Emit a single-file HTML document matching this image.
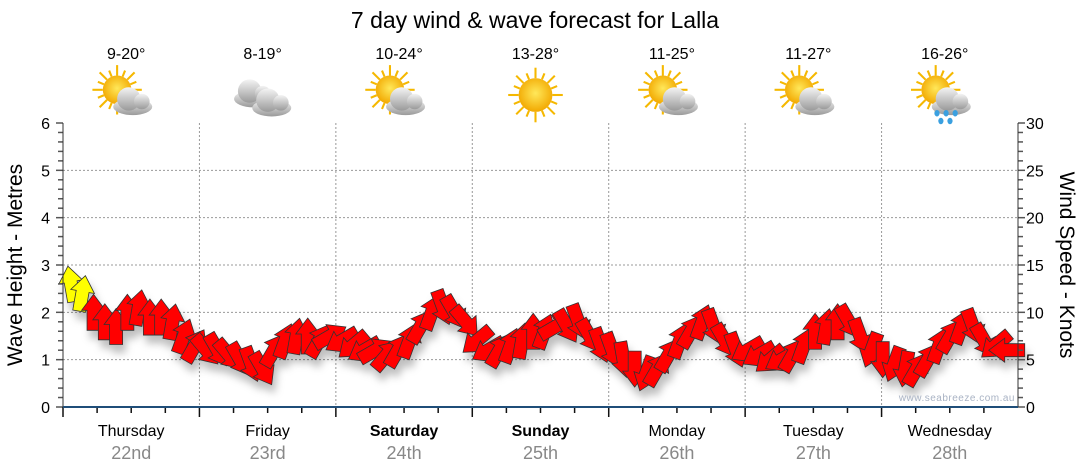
<!DOCTYPE html>
<html><head><meta charset="utf-8">
<style>
body{margin:0;background:#fff;}
svg{display:block;font-family:"Liberation Sans",sans-serif;}
</style></head>
<body>
<svg id="chart" width="1080" height="475" viewBox="0 0 1080 475" xmlns="http://www.w3.org/2000/svg">
<defs>
<filter id="sh" x="-50%" y="-50%" width="200%" height="200%"><feDropShadow dx="3" dy="8" stdDeviation="4" flood-color="#000" flood-opacity="0.25"/></filter>
<radialGradient id="sun" cx="50%" cy="45%" r="55%"><stop offset="0" stop-color="#ffe85a"/><stop offset="1" stop-color="#f2a800"/></radialGradient>
<linearGradient id="cl" x1="0" y1="0" x2="0" y2="1"><stop offset="0" stop-color="#f4f4f4"/><stop offset="1" stop-color="#9a9a9a"/></linearGradient>
</defs>
<text x="535" y="28" font-size="23" text-anchor="middle" fill="#000">7 day wind &amp; wave forecast for Lalla</text>
<g id="grid"></g>
<g id="icons"></g>
<g id="arrows" filter="url(#sh)"></g>
<g id="axes"></g>
<text transform="translate(22,265) rotate(-90)" font-size="21" text-anchor="middle">Wave Height - Metres</text>
<text transform="translate(1060,265) rotate(90)" font-size="21" text-anchor="middle">Wind Speed - Knots</text>
<text x="1015" y="401" font-size="10" text-anchor="end" fill="#a9b3c4" letter-spacing="0.5">www.seabreeze.com.au</text>
</svg>
<script>
const days=["Thursday","Friday","Saturday","Sunday","Monday","Tuesday","Wednesday"];
const dates=["22nd","23rd","24th","25th","26th","27th","28th"];
const boldDays=[false,false,true,true,false,false,false];
const temps=["9-20°","8-19°","10-24°","13-28°","11-25°","11-27°","16-26°"];
const icons=["partly","cloudy","partly","sunny","partly","partly","rain"];
const leftTicks=[0,1,2,3,4,5,6];
const rightTicks=[0,5,10,15,20,25,30];
const windSpeed=[13,12,10,9,8.5,10,10.5,9.5,9.5,9,7.5,6.5,
 6,6,5.5,5,4.5,4,6,7,7.5,7.5,7,7.5,
 7,6.5,6,6,5.5,6,7,8.5,10,10.5,10,9,
 7,6,6,6.5,7,8,8,8.5,8.5,9,7.5,6.5,
 6,5,4,3.5,4,5.5,7,8,9,8.5,7,6,
 6,5.5,5,5,5.5,6.5,8,8.5,9,9,7.5,6,
 5,4.5,4,4,5,6.5,7.5,8.5,8.5,7,6.5,6];
const windDir=[350,10,0,0,0,0,10,0,0,10,20,30,
 140,150,140,150,160,150,30,20,10,0,30,60,
 240,230,240,60,40,30,20,30,20,160,150,140,
 230,240,30,20,10,0,20,60,150,160,150,160,
 160,170,180,200,30,30,20,30,20,160,150,160,
 240,240,230,240,30,20,0,10,0,150,160,200,
 180,200,190,30,30,20,30,20,160,150,230,270];
const windColor=["#ffff00","#ffff00"];
const X0=63,X1=1018,Y0=407,Y1=123;
const ns="http://www.w3.org/2000/svg";
function mk(t,a,p){const e=document.createElementNS(ns,t);for(const k in a)e.setAttribute(k,a[k]);p.appendChild(e);return e;}
const dayW=(X1-X0)/days.length;
function xDay(i){return X0+i*dayW;}
function xIdx(i){return X0+8+(i)*(X1-X0-8)/windSpeed.length;}
function yM(v){return Y0-(v/6)*(Y0-Y1);}
function yK(v){return Y0-(v/30)*(Y0-Y1);}
const grid=document.getElementById('grid'),axes=document.getElementById('axes'),ic=document.getElementById('icons'),ar=document.getElementById('arrows');
leftTicks.forEach(v=>{if(v>0&&v<6){const l=mk('line',{x1:X0,x2:X1,y1:yM(v),y2:yM(v),stroke:'#999','stroke-dasharray':'2,2'},grid);}
 const t=mk('text',{x:50,y:yM(v)+6,'font-size':16,'text-anchor':'end',fill:'#000'},axes);t.textContent=v;});
rightTicks.forEach(v=>{const t=mk('text',{x:1026,y:yK(v)+6,'font-size':16,fill:'#000'},axes);t.textContent=v;});
for(let v=0;v<=30;v++){const len=v%5==0?7:5;mk('line',{x1:X0-len,x2:X0,y1:yK(v),y2:yK(v),stroke:'#555','stroke-width':1.5},axes);mk('line',{x1:X1,x2:X1+len,y1:yK(v),y2:yK(v),stroke:'#555','stroke-width':1.5},axes);}
mk('line',{x1:X0,x2:X0,y1:Y1,y2:Y0,stroke:'#333'},axes);
mk('line',{x1:X1,x2:X1,y1:Y1,y2:Y0,stroke:'#333'},axes);
days.forEach((d,i)=>{
 if(i>0){const l=mk('line',{x1:xDay(i),x2:xDay(i),y1:Y1,y2:Y0,stroke:'#999','stroke-dasharray':'2,2'},grid);}
 for(let q=0;q<4;q++){const x=xDay(i)+q*dayW/4;mk('line',{x1:x,x2:x,y1:Y0,y2:Y0+(q==0?10:6),stroke:'#111','stroke-width':1.5},axes);}
 const cx=xDay(i)+dayW/2;
 const t=mk('text',{x:cx,y:436,'font-size':16,'text-anchor':'middle','font-weight':boldDays[i]?'bold':'normal'},axes);t.textContent=d;
 const t2=mk('text',{x:cx,y:459,'font-size':18,'text-anchor':'middle',fill:'#888'},axes);t2.textContent=dates[i];
 const t3=mk('text',{x:cx-5,y:59,'font-size':16,'text-anchor':'middle'},ic);t3.textContent=temps[i];
 const g=mk('g',{transform:`translate(${cx-5},95) scale(1.3)`},ic);
 const type=icons[i];
 if(type!="cloudy"){const sx=type=="sunny"?0:-7,sy=type=="sunny"?0:-4,r=type=="sunny"?13:11;
  for(let k=0;k<16;k++){const a=k*Math.PI/8;mk('line',{x1:sx+Math.cos(a)*r,y1:sy+Math.sin(a)*r,x2:sx+Math.cos(a)*(r+(k%2?5:8)),y2:sy+Math.sin(a)*(r+(k%2?5:8)),stroke:'#f5b800','stroke-width':1.6},g);}
  mk('circle',{cx:sx,cy:sy,r:r,fill:'url(#sun)'},g);}
 function cloud(ox,oy){mk('ellipse',{cx:ox,cy:oy+6,rx:15,ry:6.5,fill:'url(#cl)'},g);mk('circle',{cx:ox-3,cy:oy,r:9,fill:'url(#cl)'},g);mk('circle',{cx:ox+7,cy:oy+2,r:6,fill:'url(#cl)'},g);}
 if(type=="partly"||type=="rain")cloud(5,3);
 if(type=="cloudy"){cloud(-7,-3);cloud(7,4);}
 if(type=="rain")[[-6,14],[1,14],[8,14],[-3,20],[4,20]].forEach(p=>mk('ellipse',{cx:p[0],cy:p[1],rx:2,ry:2.5,fill:'#3aa0e0'},g));
});
mk('line',{x1:X0,x2:X1,y1:Y0,y2:Y0,stroke:'#1f4e79','stroke-width':2},axes);
windSpeed.forEach((v,i)=>{
 const x=xIdx(i),y=yK(v);
 const p=mk('polygon',{points:"-6.5,18 6.5,18 6.5,-2 12,-2 0,-18 -12,-2 -6.5,-2",transform:`translate(${x},${y}) rotate(${windDir[i]})`,fill:windColor[i]||'#ff0000',stroke:'#333','stroke-width':0.8},ar);
 
 
});
</script>
</body></html>
